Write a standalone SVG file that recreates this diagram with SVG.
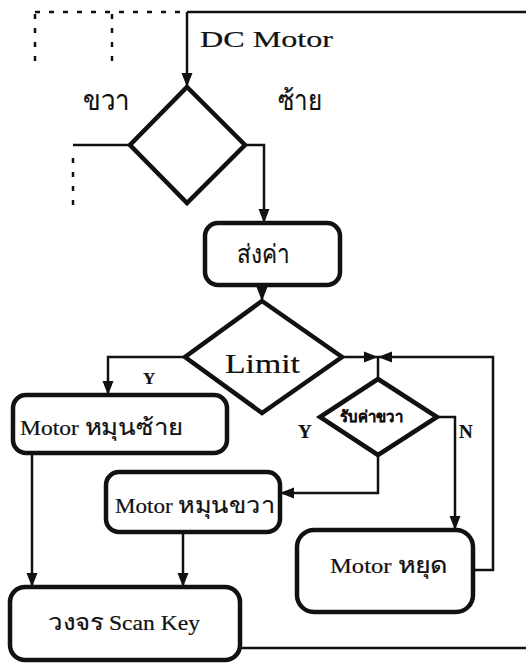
<svg xmlns="http://www.w3.org/2000/svg" width="526" height="663" viewBox="0 0 526 663">
  <defs>
    <marker id="arrow" markerUnits="userSpaceOnUse" markerWidth="15" markerHeight="13" viewBox="0 0 15 13" refX="14" refY="6.5" orient="auto">
      <path d="M0,1 L14,6.5 L0,12 Z" fill="#111"/>
    </marker>
  </defs>
  <style>
    .box { fill: #fff; stroke: #111; stroke-width: 4.5; }
    .line { fill: none; stroke: #111; stroke-width: 2.5; }
    .dash { fill: none; stroke: #111; stroke-width: 2.5; stroke-dasharray: 5 9; }
    .lbl { font-family: "Liberation Serif", "DejaVu Serif", serif; fill: #111; stroke: #111; stroke-width: 0.2; }
    .th { font-size: 23px; }
  </style>
  <rect width="526" height="663" fill="#fff"/>

  <g id="connectors">
    <!-- dashed lead-in -->
    <path class="dash" d="M35,12 H185"/>
    <path class="dash" d="M35,14 V62"/>
    <path class="dash" d="M112,14 V62"/>
    <path class="line" d="M187,12 H526"/>
    <path class="line" d="M187,12 V87" marker-end="url(#arrow)"/>
    <!-- direction diamond outputs -->
    <path class="line" d="M130,145 H73"/>
    <path class="dash" d="M73,158 V214"/>
    <path class="line" d="M245,145 H264 V223" marker-end="url(#arrow)"/>
    <path class="line" d="M262,285 V301" marker-end="url(#arrow)"/>
    <!-- limit branches -->
    <path class="line" d="M185,357 H108 V395" marker-end="url(#arrow)"/>
    <path class="line" d="M342,357 H378" marker-end="url(#arrow)"/>
    <path class="line" d="M473,570 H493 V357 H378" marker-end="url(#arrow)"/>
    <path class="line" d="M378,357 V379"/>
    <path class="line" d="M437,417 H455 V530" marker-end="url(#arrow)"/>
    <path class="line" d="M378,455 V493 H280" marker-end="url(#arrow)"/>
    <!-- into scan key -->
    <path class="line" d="M32,453 V587" marker-end="url(#arrow)"/>
    <path class="line" d="M183,532 V587" marker-end="url(#arrow)"/>
    <path class="line" d="M240,648 H526"/>
  </g>

  <g id="dc-motor-label">
    <text class="lbl" x="200" y="47" font-size="23" textLength="133" lengthAdjust="spacingAndGlyphs">DC Motor</text>
    <text class="lbl" x="83" y="110" font-size="28" textLength="47" lengthAdjust="spacingAndGlyphs">ขวา</text>
    <text class="lbl" x="278" y="110" font-size="28" textLength="44" lengthAdjust="spacingAndGlyphs">ซ้าย</text>
  </g>

  <g id="dir-decision">
    <path class="box" d="M187,87 L245,145 L187,203 L130,145 Z"/>
  </g>

  <g id="send-value">
    <rect class="box" x="205" y="223" width="135" height="62" rx="13"/>
    <text class="lbl" x="237" y="263" font-size="26" textLength="53" lengthAdjust="spacingAndGlyphs">ส่งค่า</text>
  </g>

  <g id="limit">
    <path class="box" d="M262,301 L342,357 L262,413 L185,357 Z"/>
    <text class="lbl" x="225" y="373" font-size="27" textLength="75" lengthAdjust="spacingAndGlyphs">Limit</text>
    <text class="lbl" x="143" y="384" font-size="17" font-weight="bold">Y</text>
  </g>

  <g id="motor-left">
    <rect class="box" x="13" y="395" width="214" height="58" rx="13"/>
    <text class="lbl" x="20" y="435" font-size="21" textLength="163" lengthAdjust="spacingAndGlyphs">Motor  <tspan class="th">หมุนซ้าย</tspan></text>
  </g>

  <g id="read-right">
    <path class="box" d="M378,379 L437,417 L378,455 L320,417 Z"/>
    <text class="lbl" x="340" y="422" font-size="16" font-weight="bold" textLength="63" lengthAdjust="spacingAndGlyphs">รับค่าขวา</text>
    <text class="lbl" x="298" y="438" font-size="19" font-weight="bold">Y</text>
    <text class="lbl" x="459" y="438" font-size="19" font-weight="bold">N</text>
  </g>

  <g id="motor-right">
    <rect class="box" x="106" y="472" width="174" height="60" rx="13"/>
    <text class="lbl" x="115" y="513" font-size="21" textLength="160" lengthAdjust="spacingAndGlyphs">Motor <tspan class="th">หมุนขวา</tspan></text>
  </g>

  <g id="motor-stop">
    <rect class="box" x="297" y="530" width="176" height="82" rx="17"/>
    <text class="lbl" x="330" y="573" font-size="21" textLength="118" lengthAdjust="spacingAndGlyphs">Motor <tspan class="th">หยุด</tspan></text>
  </g>

  <g id="scan-key">
    <rect class="box" x="10" y="587" width="230" height="73" rx="15"/>
    <text class="lbl" x="48" y="630" font-size="21" textLength="152" lengthAdjust="spacingAndGlyphs"><tspan class="th">วงจร</tspan> Scan Key</text>
  </g>
</svg>
